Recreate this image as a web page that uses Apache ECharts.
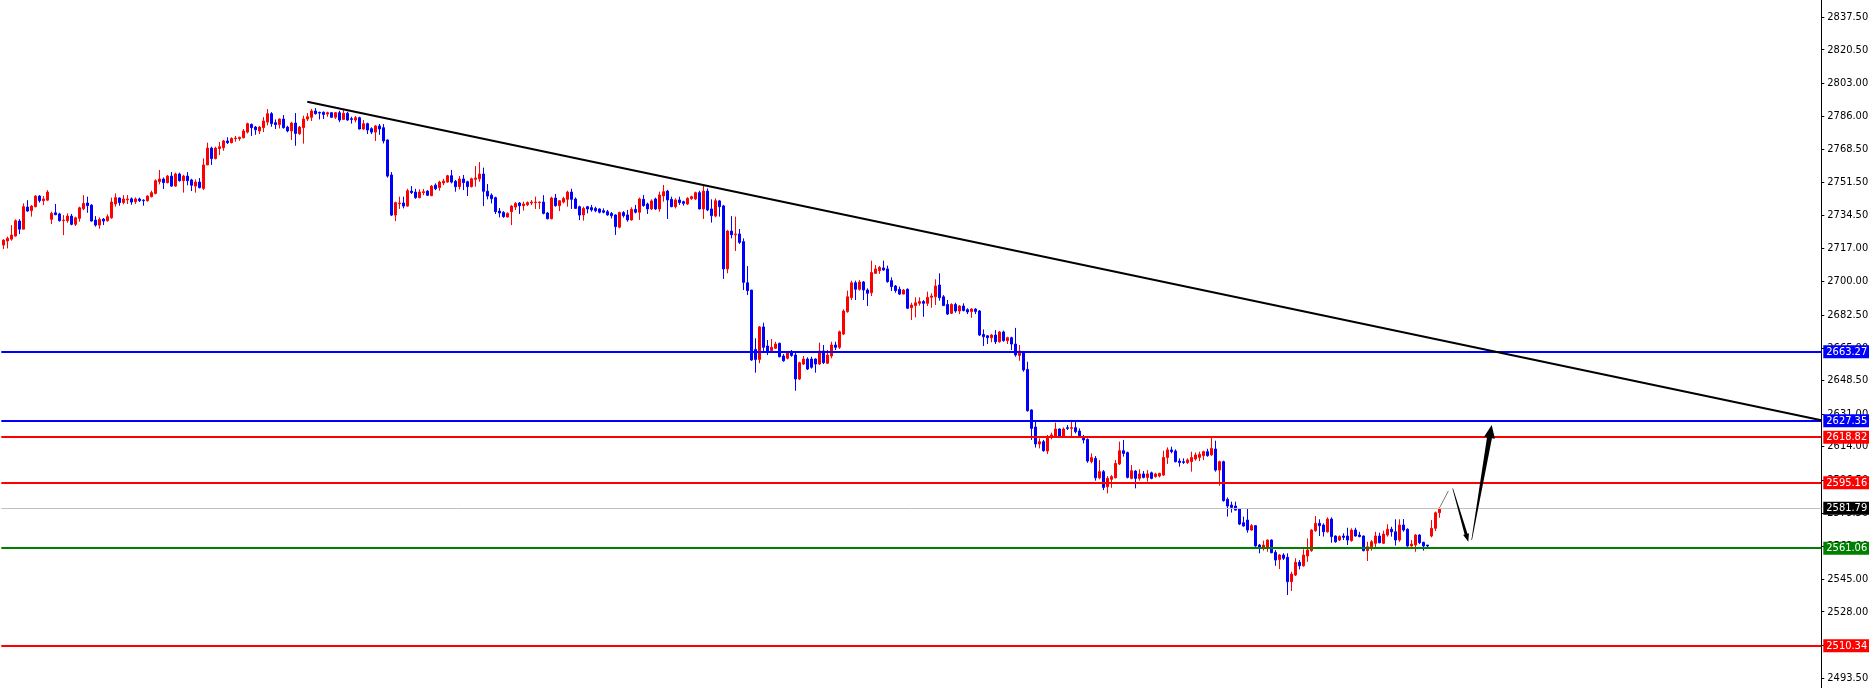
<!DOCTYPE html>
<html><head><meta charset="utf-8">
<script src="https://cdn.jsdelivr.net/npm/echarts@6/dist/echarts.min.js"></script>
<style>html,body{margin:0;padding:0;background:#fff}#c{width:1869px;height:688px}</style>
</head><body><div id="c"></div><script>
// [open, close, low, high] per candle
const ohlc = [
[2718.8,2721.4,2716.7,2721.8],[2720.9,2722.3,2717.1,2723.2],[2721.9,2724.0,2721.1,2729.2],[2723.5,2731.5,2723.2,2732.2],
[2731.3,2727.1,2724.5,2732.3],[2727.1,2738.8,2727.1,2740.5],[2738.6,2736.5,2736.2,2742.2],[2736.7,2739.1,2733.6,2739.6],
[2738.8,2744.3,2738.4,2744.8],[2744.3,2741.9,2740.9,2744.8],[2741.9,2742.8,2739.6,2744.3],[2742.2,2746.4,2741.9,2747.4],
[2732.2,2735.3,2729.7,2736.2],[2735.6,2734.6,2734.4,2740.2],[2735.0,2731.5,2731.0,2735.6],[2731.5,2731.8,2724.0,2734.4],
[2731.5,2733.9,2730.4,2735.3],[2733.9,2729.6,2729.1,2735.0],[2729.6,2733.0,2728.7,2733.6],[2732.7,2738.2,2731.0,2738.8],
[2737.7,2740.5,2737.0,2744.8],[2740.7,2739.3,2735.6,2744.0],[2739.6,2731.3,2731.0,2740.0],[2731.8,2729.2,2728.4,2733.9],
[2729.2,2732.2,2727.3,2733.2],[2732.3,2731.3,2729.2,2732.9],[2731.5,2733.6,2731.0,2734.8],[2733.0,2741.2,2732.5,2743.5],
[2740.2,2743.5,2738.8,2745.7],[2743.3,2740.9,2739.3,2743.6],[2740.9,2742.8,2740.0,2744.8],[2742.4,2742.8,2740.2,2744.8],
[2742.9,2741.2,2739.8,2743.6],[2741.4,2742.8,2740.2,2743.6],[2742.8,2741.9,2741.2,2743.5],[2742.2,2741.9,2739.3,2742.6],
[2741.9,2744.3,2741.4,2744.7],[2744.0,2746.1,2743.6,2747.1],[2745.7,2752.3,2745.2,2753.0],[2751.8,2753.2,2750.4,2757.9],
[2753.2,2751.3,2748.0,2754.0],[2751.3,2754.7,2750.9,2755.3],[2754.7,2749.5,2749.2,2756.8],[2749.5,2755.8,2749.2,2756.5],
[2755.8,2752.3,2751.8,2756.5],[2752.3,2754.7,2746.1,2755.4],[2754.7,2752.3,2749.9,2756.8],[2752.7,2749.9,2746.9,2753.3],
[2749.5,2751.6,2746.1,2753.0],[2751.6,2748.7,2748.3,2753.7],[2748.3,2760.5,2747.4,2763.9],[2760.5,2769.3,2760.5,2772.1],
[2769.3,2763.8,2760.5,2770.0],[2763.8,2769.3,2763.4,2770.0],[2769.0,2770.0,2765.7,2772.4],[2769.5,2773.0,2767.9,2773.5],
[2773.0,2772.1,2771.4,2774.9],[2772.1,2774.3,2771.7,2774.9],[2774.2,2774.5,2772.6,2775.6],[2774.2,2774.9,2773.1,2775.2],
[2774.7,2778.2,2774.3,2779.2],[2777.6,2782.0,2776.9,2782.5],[2781.6,2779.9,2775.6,2782.1],[2780.2,2778.8,2776.2,2780.8],
[2778.2,2780.2,2776.6,2780.8],[2779.9,2783.4,2777.6,2785.4],[2782.8,2787.2,2781.1,2789.6],[2787.2,2782.0,2780.4,2788.0],
[2782.5,2781.5,2779.2,2784.2],[2781.5,2784.4,2779.5,2784.7],[2784.4,2779.9,2779.4,2786.5],[2780.2,2778.2,2777.5,2780.9],
[2778.2,2782.3,2773.5,2783.0],[2782.3,2776.9,2770.5,2787.5],[2776.8,2780.2,2776.1,2780.8],[2779.9,2784.4,2771.6,2786.1],
[2784.4,2785.6,2783.4,2787.5],[2785.3,2788.6,2783.4,2789.6],[2788.6,2787.2,2786.7,2790.1],[2787.9,2787.5,2784.2,2788.2],
[2787.9,2786.8,2784.4,2788.4],[2787.0,2787.7,2785.6,2788.2],[2787.7,2785.3,2784.9,2787.9],[2785.3,2787.7,2784.4,2788.0],
[2787.7,2783.9,2782.8,2788.7],[2784.2,2787.4,2783.9,2789.1],[2787.4,2783.9,2783.5,2788.2],[2784.6,2784.2,2782.0,2785.6],
[2783.9,2785.1,2782.7,2786.0],[2785.1,2779.2,2779.0,2785.6],[2779.2,2782.0,2778.7,2783.9],[2782.0,2778.7,2776.6,2782.5],
[2779.4,2777.6,2776.6,2780.1],[2777.6,2780.8,2773.0,2781.3],[2780.8,2779.2,2776.2,2781.8],[2779.9,2773.0,2771.7,2781.8],
[2773.5,2754.7,2753.9,2773.8],[2755.3,2734.4,2733.9,2756.8],[2734.4,2740.9,2731.3,2741.4],[2740.3,2740.7,2737.6,2744.0],
[2740.7,2739.1,2737.9,2744.0],[2739.1,2747.1,2738.8,2748.1],[2746.9,2746.1,2745.4,2749.5],[2746.4,2743.5,2742.9,2748.1],
[2743.5,2746.4,2743.1,2747.8],[2746.1,2746.6,2744.8,2748.0],[2746.9,2744.7,2744.3,2747.4],[2744.5,2749.5,2744.3,2750.0],
[2750.0,2748.1,2747.4,2750.9],[2748.7,2751.6,2747.1,2752.3],[2751.1,2752.1,2750.0,2753.3],[2751.6,2754.9,2751.3,2755.4],
[2754.9,2751.6,2750.9,2757.9],[2752.0,2749.2,2746.6,2752.7],[2749.2,2753.2,2747.8,2754.7],[2753.2,2751.3,2747.4,2755.3],
[2751.8,2749.2,2744.3,2752.3],[2749.2,2753.3,2748.8,2753.9],[2753.0,2753.7,2749.2,2759.9],[2753.3,2755.8,2751.8,2762.0],
[2755.8,2746.8,2739.1,2759.1],[2746.8,2744.3,2742.6,2750.6],[2744.8,2742.9,2740.5,2745.7],[2743.5,2736.2,2735.0,2744.0],
[2736.5,2735.5,2733.2,2738.1],[2735.8,2733.6,2733.0,2736.5],[2733.4,2735.3,2733.2,2735.8],[2736.2,2739.1,2729.2,2739.6],
[2738.6,2740.5,2737.0,2741.2],[2740.7,2739.3,2735.0,2741.2],[2739.3,2740.2,2736.7,2741.4],[2739.8,2740.9,2739.1,2741.5],
[2740.7,2741.2,2739.6,2742.2],[2740.9,2741.2,2737.6,2744.0],[2740.9,2741.2,2737.6,2741.5],[2741.2,2735.3,2734.8,2744.8],
[2735.5,2732.5,2732.2,2736.0],[2732.5,2743.3,2732.2,2744.0],[2743.3,2739.3,2738.8,2745.4],[2739.3,2741.9,2736.5,2742.2],
[2741.2,2743.1,2740.5,2744.0],[2742.6,2746.4,2738.8,2747.1],[2746.4,2742.6,2737.6,2748.1],[2742.8,2737.9,2737.6,2743.6],
[2738.8,2734.4,2731.8,2739.3],[2734.5,2737.9,2731.5,2738.8],[2738.8,2737.6,2735.3,2739.2],[2738.3,2737.1,2736.2,2739.7],
[2737.9,2736.7,2735.9,2738.8],[2737.6,2735.9,2735.3,2737.9],[2736.7,2735.9,2735.3,2737.9],[2736.2,2734.5,2734.1,2737.1],
[2735.3,2734.1,2732.7,2736.0],[2734.5,2728.4,2724.1,2734.8],[2728.1,2735.7,2727.5,2736.2],[2735.7,2734.1,2733.1,2736.5],
[2734.5,2731.9,2731.0,2737.1],[2731.9,2737.4,2731.5,2738.5],[2737.4,2735.9,2735.3,2739.7],[2735.9,2742.8,2731.9,2743.5],
[2742.6,2739.3,2738.8,2744.9],[2740.2,2737.6,2735.0,2740.9],[2737.6,2741.8,2737.1,2742.6],[2742.8,2737.6,2737.1,2743.5],
[2737.6,2744.9,2736.2,2746.6],[2744.4,2746.6,2741.4,2750.1],[2746.9,2742.3,2732.4,2747.5],[2742.6,2738.8,2738.5,2744.0],
[2738.8,2742.3,2737.9,2743.1],[2742.3,2740.9,2739.7,2744.0],[2741.4,2740.5,2739.3,2741.9],[2740.2,2743.1,2739.7,2743.7],
[2743.0,2744.0,2742.3,2744.5],[2742.8,2746.1,2742.3,2746.6],[2746.1,2737.6,2737.4,2747.1],[2737.6,2746.9,2732.4,2750.1],
[2746.9,2737.1,2736.5,2748.3],[2737.6,2734.1,2730.5,2742.6],[2733.9,2741.9,2733.3,2743.1],[2741.8,2738.8,2733.6,2742.3],
[2739.2,2706.4,2701.2,2739.7],[2706.4,2726.1,2704.1,2726.7],[2726.1,2724.2,2722.3,2733.9],[2724.2,2724.6,2715.7,2733.6],
[2724.6,2720.2,2719.4,2727.2],[2720.6,2699.4,2695.4,2722.3],[2699.2,2695.1,2692.8,2707.9],[2695.4,2659.0,2658.6,2695.4],
[2664.5,2659.3,2652.4,2670.3],[2659.3,2676.2,2657.3,2676.7],[2676.2,2665.6,2662.8,2678.4],[2666.3,2663.7,2661.6,2669.4],
[2663.9,2665.6,2662.8,2669.9],[2665.1,2667.3,2664.7,2668.5],[2667.7,2660.7,2660.4,2668.0],[2661.1,2658.6,2658.1,2662.1],
[2659.9,2663.3,2659.3,2663.7],[2663.3,2661.3,2660.7,2664.2],[2661.6,2649.1,2643.0,2663.3],[2649.1,2657.6,2648.6,2658.1],
[2656.9,2659.5,2656.4,2661.1],[2659.5,2654.3,2653.8,2660.4],[2659.5,2655.2,2654.5,2660.7],[2659.5,2656.9,2652.4,2659.9],
[2656.9,2663.7,2656.4,2668.0],[2663.7,2657.6,2656.9,2666.8],[2657.3,2661.6,2656.9,2664.2],[2661.1,2666.8,2659.9,2668.5],
[2666.8,2665.6,2664.2,2668.5],[2665.6,2673.7,2664.7,2674.3],[2672.5,2684.5,2672.0,2685.4],[2684.2,2691.9,2683.6,2695.1],
[2691.4,2699.2,2690.2,2700.3],[2699.2,2695.8,2690.2,2700.3],[2695.8,2699.6,2695.1,2700.6],[2699.6,2695.4,2690.2,2700.1],
[2695.4,2693.7,2687.1,2696.3],[2694.0,2704.5,2692.3,2710.7],[2704.1,2706.4,2703.8,2708.4],[2705.5,2707.2,2703.8,2707.9],
[2706.9,2705.8,2705.5,2710.7],[2706.4,2699.8,2699.2,2708.1],[2700.3,2697.2,2694.9,2702.0],[2697.5,2695.1,2694.0,2698.0],
[2695.8,2693.3,2692.8,2697.2],[2693.3,2695.4,2693.2,2695.9],[2695.8,2685.9,2685.5,2696.3],[2686.2,2687.6,2679.8,2688.8],
[2687.3,2688.8,2681.2,2691.6],[2688.5,2689.4,2687.3,2691.6],[2689.4,2688.5,2681.5,2690.2],[2688.5,2691.6,2687.1,2694.6],
[2691.6,2692.3,2686.2,2693.7],[2691.9,2697.5,2687.6,2701.0],[2698.0,2691.4,2689.9,2704.1],[2691.9,2687.3,2687.1,2692.8],
[2687.9,2682.9,2682.4,2690.2],[2683.3,2687.9,2682.9,2688.5],[2687.9,2684.5,2683.6,2688.8],[2684.5,2687.1,2682.9,2687.6],
[2687.1,2684.7,2684.3,2688.5],[2685.2,2684.0,2682.9,2685.9],[2684.2,2685.5,2681.0,2686.0],[2685.5,2684.3,2682.9,2685.9],
[2684.5,2672.0,2671.5,2685.0],[2672.3,2671.1,2666.3,2674.9],[2671.6,2670.6,2667.3,2672.0],[2670.6,2672.0,2668.2,2672.5],
[2672.0,2668.5,2667.3,2674.6],[2668.5,2673.6,2668.0,2674.1],[2673.6,2669.1,2668.5,2674.3],[2669.1,2670.6,2667.3,2671.1],
[2670.6,2667.3,2664.2,2671.1],[2667.3,2661.6,2660.7,2675.7],[2661.4,2663.7,2658.6,2666.8],[2663.3,2653.8,2652.9,2663.7],
[2654.1,2632.6,2632.1,2658.1],[2633.0,2623.4,2617.4,2633.3],[2624.1,2615.3,2613.4,2626.9],[2615.3,2616.5,2613.0,2618.2],
[2616.5,2611.8,2611.3,2617.4],[2611.6,2619.1,2610.1,2620.0],[2618.7,2620.0,2617.7,2621.2],[2619.1,2623.1,2618.7,2626.4],
[2623.1,2619.1,2618.7,2623.4],[2619.1,2623.1,2618.7,2623.9],[2623.8,2623.4,2622.6,2625.2],[2623.4,2623.8,2619.1,2627.8],
[2623.8,2621.7,2620.8,2626.9],[2622.0,2619.1,2618.7,2623.4],[2618.5,2617.4,2615.6,2620.0],[2617.7,2606.4,2605.5,2618.2],
[2606.1,2608.2,2605.2,2610.4],[2607.8,2597.7,2596.2,2609.0],[2597.7,2600.9,2596.9,2606.9],[2600.9,2592.7,2591.3,2601.7],
[2593.0,2597.4,2589.6,2598.6],[2596.9,2598.3,2592.5,2599.1],[2597.7,2605.2,2597.4,2606.9],[2604.9,2611.8,2604.3,2616.5],
[2611.8,2610.4,2608.7,2617.4],[2610.8,2597.9,2597.4,2611.3],[2597.4,2601.4,2596.9,2604.3],[2601.2,2597.4,2592.2,2601.7],
[2597.4,2599.7,2596.2,2602.1],[2599.7,2597.9,2597.4,2601.2],[2597.9,2599.7,2595.7,2601.7],[2600.3,2597.4,2596.9,2600.9],
[2598.3,2599.7,2597.8,2600.3],[2598.6,2600.0,2597.9,2600.3],[2599.1,2608.3,2598.6,2611.8],[2608.3,2612.2,2604.9,2613.5],
[2612.2,2611.3,2610.4,2613.9],[2611.6,2606.1,2605.7,2612.5],[2606.4,2605.6,2603.5,2607.8],[2606.1,2605.7,2604.9,2607.8],
[2605.6,2607.0,2604.9,2607.8],[2606.1,2608.2,2600.9,2611.3],[2607.5,2609.6,2606.6,2610.8],[2608.3,2609.9,2606.4,2611.3],
[2609.2,2611.3,2606.9,2611.8],[2611.3,2609.2,2608.7,2612.8],[2609.6,2613.0,2609.2,2618.7],[2612.7,2601.7,2600.9,2617.0],
[2601.7,2606.1,2593.6,2606.6],[2606.1,2585.8,2585.3,2606.6],[2586.5,2583.0,2577.5,2587.5],[2583.5,2582.3,2579.6,2585.3],
[2583.0,2580.9,2580.6,2585.3],[2581.5,2573.6,2573.1,2581.8],[2574.3,2572.6,2572.2,2577.5],[2575.7,2570.5,2569.1,2581.8],
[2570.5,2572.8,2570.2,2573.6],[2572.8,2562.2,2561.8,2573.1],[2562.7,2561.0,2558.4,2563.2],[2561.0,2562.7,2559.8,2565.0],
[2561.0,2565.3,2559.2,2565.6],[2565.3,2558.7,2558.4,2565.6],[2558.9,2554.9,2551.9,2560.1],[2555.2,2557.5,2550.2,2558.0],
[2557.5,2555.8,2554.9,2558.4],[2556.3,2543.6,2536.7,2558.4],[2543.6,2547.6,2538.8,2548.8],[2547.1,2553.7,2546.6,2555.8],
[2553.7,2551.9,2550.0,2554.9],[2551.9,2557.5,2551.4,2560.5],[2557.0,2560.1,2554.0,2566.2],[2559.8,2570.5,2559.2,2570.9],
[2570.2,2574.0,2569.6,2577.8],[2574.0,2572.8,2567.4,2576.1],[2573.1,2569.6,2567.1,2574.0],[2569.6,2576.2,2569.1,2577.1],
[2576.2,2567.1,2563.9,2577.1],[2567.4,2564.4,2563.9,2567.7],[2565.3,2567.1,2564.8,2567.7],[2567.4,2566.7,2565.3,2568.8],
[2567.4,2565.3,2562.7,2571.7],[2565.0,2570.5,2564.4,2571.4],[2570.5,2567.4,2567.1,2571.7],[2567.9,2567.1,2566.7,2569.6],
[2567.4,2559.8,2559.4,2567.7],[2559.8,2561.8,2554.4,2564.4],[2561.8,2564.4,2559.8,2565.3],[2563.6,2567.4,2560.6,2569.6],
[2567.4,2563.9,2563.6,2569.1],[2563.6,2568.4,2563.2,2570.2],[2567.9,2570.9,2567.1,2573.5],[2570.9,2569.6,2567.1,2572.2],
[2569.6,2565.3,2562.4,2576.1],[2565.3,2573.1,2564.4,2576.1],[2573.1,2570.5,2569.6,2576.2],[2570.9,2562.2,2561.8,2571.4],
[2562.2,2563.2,2561.8,2565.3],[2562.7,2567.9,2559.2,2568.4],[2567.9,2563.9,2563.2,2568.4],[2564.1,2562.2,2559.8,2564.4],
[2562.7,2562.2,2561.0,2562.7],[2567.4,2571.4,2566.7,2575.7],[2571.4,2579.5,2570.0,2580.1],[2579.5,2581.79,2576.9,2582.3]
];

const slotCount = 455;              // candle slots incl. empty chart shift on the right
const yTickValues = [2837.5,2820.5,2803.0,2786.0,2768.5,2751.5,2734.5,2717.0,2700.0,2682.5,2665.0,
                     2648.5,2631.0,2614.0,2596.5,2579.5,2562.0,2545.0,2528.0,2510.5,2493.5];
const yRange = [2488.3, 2846.35];
const levelValues = [2663.27, 2627.35, 2618.82, 2595.16, 2581.79, 2561.06, 2510.34];
const levelKinds  = ['blue', 'blue', 'red', 'red', 'price', 'green', 'red'];
// trend line & arrows in slot units (candle i centre = i + 0.5) and price
const trendLine = [[76.5, 2793.4], [455, 2627.6]];
const connectorLine = [[359.7, 2582.6], [361.75, 2590.8]];
const arrowPaths = [[362.85, 2592.2, 366.75, 2564.4], [367.6, 2565.3, 372.6, 2625.2]];

const kindStyle = {
  blue:  {line: '#0000ff', tag: '#0000ff', width: 2},
  red:   {line: '#ff0000', tag: '#ff0000', width: 2},
  green: {line: '#008000', tag: '#008000', width: 2},
  price: {line: '#c0c0c0', tag: '#000000', width: 1}
};
const arrowStyles = [{w0: 0.6, w1: 3, hw: 6, hl: 8}, {w0: 0.6, w1: 5, hw: 11, hl: 13}];
const FONT = "'Liberation Sans Narrow','DejaVu Sans Condensed','Liberation Sans',sans-serif";

const categories = [];
for (let i = 0; i < slotCount; i++) categories.push(String(i));

const chart = echarts.init(document.getElementById('c'), null, {renderer: 'canvas'});
chart.setOption({
  animation: false,
  backgroundColor: '#ffffff',
  grid: {left: 1.3, right: 47.7, top: 0, bottom: 0, containLabel: false, outerBoundsMode: 'none'},
  xAxis: [
    {type: 'category', data: categories, boundaryGap: true, show: false},
    {type: 'value', min: 0, max: slotCount, show: false}
  ],
  yAxis: {
    type: 'value', position: 'right', min: yRange[0], max: yRange[1], scale: true, z: 0, zlevel: 0,
    splitLine: {show: false},
    axisLine: {show: true, onZero: false, lineStyle: {color: '#000', width: 1}},
    axisTick: {show: true, length: 3, customValues: yTickValues, lineStyle: {color: '#000', width: 1}},
    axisLabel: {show: true, customValues: yTickValues, formatter: v => v.toFixed(2),
                color: '#000', fontSize: 11, fontFamily: FONT, margin: 6}
  },
  series: [
    {
      type: 'candlestick', xAxisIndex: 0, yAxisIndex: 0, zlevel: 1, z: 3,
      data: ohlc, barWidth: 2, large: false,
      itemStyle: {color: '#ff0000', color0: '#0000ff', borderColor: '#ff0000', borderColor0: '#0000ff',
                  borderColorDoji: '#ff0000', borderWidth: 1},
      markLine: {
        silent: true, symbol: ['none', 'none'], animation: false, precision: 2, zlevel: 1, z: 10,
        data: levelValues.map((v, i) => {
          const s = kindStyle[levelKinds[i]];
          return {
            yAxis: v,
            lineStyle: {color: s.line, width: s.width, type: 'solid'},
            label: {show: true, position: 'end', distance: 2, formatter: () => v.toFixed(2),
                    color: '#fff', backgroundColor: s.tag, padding: [1, 3, 0, 3],
                    fontSize: 11, lineHeight: 12, fontFamily: FONT}
          };
        })
      }
    },
    {
      type: 'line', xAxisIndex: 1, yAxisIndex: 0, data: trendLine, symbol: 'none', silent: true,
      lineStyle: {color: '#000', width: 2}, zlevel: 1, z: 12
    },
    {
      type: 'line', xAxisIndex: 1, yAxisIndex: 0, data: connectorLine, symbol: 'none', silent: true,
      lineStyle: {color: '#777', width: 1}, zlevel: 1, z: 12
    },
    {
      type: 'custom', xAxisIndex: 1, yAxisIndex: 0, data: arrowPaths, silent: true, zlevel: 1, z: 13,
      encode: {x: [0, 2], y: [1, 3]},
      renderItem: (params, api) => {
        const s = arrowStyles[params.dataIndex];
        const p0 = api.coord([api.value(0), api.value(1)]);
        const p1 = api.coord([api.value(2), api.value(3)]);
        const dx = p1[0] - p0[0], dy = p1[1] - p0[1];
        const len = Math.hypot(dx, dy);
        const ux = dx / len, uy = dy / len, nx = -uy, ny = ux;
        const bx = p1[0] - ux * s.hl, by = p1[1] - uy * s.hl;
        const pts = [
          [p0[0] + nx * s.w0 / 2, p0[1] + ny * s.w0 / 2],
          [bx + nx * s.w1 / 2, by + ny * s.w1 / 2],
          [bx + nx * s.hw / 2, by + ny * s.hw / 2],
          [p1[0], p1[1]],
          [bx - nx * s.hw / 2, by - ny * s.hw / 2],
          [bx - nx * s.w1 / 2, by - ny * s.w1 / 2],
          [p0[0] - nx * s.w0 / 2, p0[1] - ny * s.w0 / 2]
        ];
        return {type: 'polygon', shape: {points: pts}, style: {fill: '#000'}};
      }
    }
  ]
});
</script></body></html>
